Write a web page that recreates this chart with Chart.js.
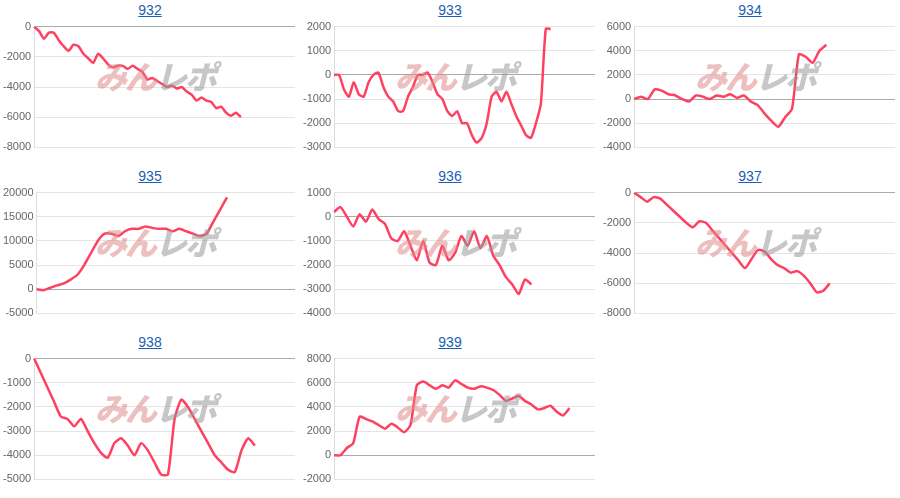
<!DOCTYPE html>
<html><head><meta charset="utf-8">
<script src="https://cdn.jsdelivr.net/npm/chart.js@4"></script>
<style>
body{margin:0;background:#fff;font-family:Arial,"Liberation Sans",sans-serif;}
.cell{position:absolute;width:300px;height:166px;}
.cell a{position:absolute;top:2px;left:0;width:300px;text-align:center;color:#1a5fb4;text-decoration:underline;font-size:14px;}
.cell .cv{position:absolute;top:17px;left:0;width:300px;height:140px;}
.wm{position:absolute;left:95px;top:52px;font:italic 900 32px "Noto Sans CJK JP";letter-spacing:-2px;opacity:.55;pointer-events:none;}
.wm .a{color:#e08a8a}.wm .b{color:#999}
</style></head><body>
<script>
const titles=["932","933","934","935","936","937","938","939"];
const s932=[0,-300,-800,-400,-400,-900,-1300,-1600,-1200,-1300,-1800,-2100,-2400,-1800,-2100,-2500,-2700,-2600,-2600,-2800,-2600,-2800,-3000,-3500,-3400,-3600,-3800,-4000,-3900,-4100,-4000,-4300,-4500,-4900,-4700,-4900,-5000,-5400,-5300,-5700,-5900,-5700,-6000];
const s933=[0,0,-600,-900,-300,-800,-900,-300,0,100,-500,-900,-1100,-1500,-1500,-900,-500,0,0,100,-300,-800,-1000,-1500,-1700,-1500,-2000,-2000,-2500,-2800,-2600,-2000,-900,-700,-1100,-700,-1200,-1700,-2100,-2500,-2600,-2000,-1200,1900,1900];
const s934=[0,200,0,800,700,400,300,0,-200,300,200,0,300,200,400,100,300,-200,-500,-1200,-1800,-2300,-1500,-800,3700,3500,3000,4000,4500];
const s935=[0,-200,300,800,1200,2000,3000,5000,7500,10000,11500,11500,11000,12000,12500,12500,13000,12700,12500,12500,12000,12500,12000,11500,11000,11500,14000,16500,19000];
const s936=[200,400,0,-400,100,-200,300,-100,-300,-900,-1000,-600,-1200,-1800,-1000,-1900,-2000,-1200,-1800,-1500,-800,-1200,-600,-1300,-800,-1600,-2000,-2500,-2800,-3200,-2600,-2800];
const s937=[0,-300,-600,-300,-400,-800,-1200,-1600,-2000,-2300,-1900,-2000,-2500,-3000,-3500,-4000,-4500,-5000,-4400,-3800,-3900,-4400,-4800,-5000,-5300,-5200,-5500,-6000,-6600,-6500,-6000];
const s938=[0,-600,-1200,-1800,-2400,-2500,-2800,-2500,-3000,-3500,-3900,-4100,-3500,-3300,-3600,-4000,-3500,-3800,-4300,-4800,-4800,-2500,-1700,-2000,-2500,-3000,-3500,-4000,-4300,-4600,-4700,-3800,-3300,-3600];
const s939=[0,0,600,1000,3200,3000,2800,2500,2200,2600,2300,1900,2500,5800,6100,5800,5500,5800,5600,6200,5900,5600,5500,5700,5600,5400,5000,4500,4700,4900,4500,4200,3800,3900,4100,3600,3300,3900];
const series=[s932,s933,s934,s935,s936,s937,s938,s939];
const fracs=[0.79,0.84,0.74,0.75,0.76,0.75,0.84,0.91];
const yMin=[-8000,-3000,-4000,-5000,-4000,-8000,-5000,-2000];
const yMax=[0,2000,6000,20000,1000,0,0,8000];
const ySteps=[2000,1000,2000,5000,1000,2000,1000,2000];
titles.forEach((t,i)=>{
  const d=document.createElement('div');d.className='cell';
  d.style.left=(i%3)*300+'px';d.style.top=Math.floor(i/3)*166+'px';
  d.innerHTML='<a href="#">'+t+'</a><div class="cv"><canvas></canvas></div><div class="wm"><span class="a">みん</span><span class="b">レポ</span></div>';
  document.body.appendChild(d);
  const data=series[i];
  const n=Math.round(data.length/fracs[i]);
  const labels=Array.from({length:n},(_,k)=>String(k+1));
  new Chart(d.querySelector('canvas'),{type:'line',
    data:{labels,datasets:[{data,borderColor:'#ff4060',borderWidth:2.5,pointRadius:0,tension:0.2,fill:false}]},
    options:{responsive:true,maintainAspectRatio:false,animation:false,
      layout:{padding:{right:5,top:2}},
      plugins:{legend:{display:false},tooltip:{enabled:false}},
      scales:{x:{display:true,ticks:{display:false},grid:{display:false},border:{display:false}},
        y:{min:yMin[i],max:yMax[i],ticks:{stepSize:ySteps[i],color:'#666',font:{size:11},callback:v=>String(v)},
          grid:{color:c=>c.tick&&c.tick.value===0?'#aaa':'#e5e5e5',drawTicks:false},border:{color:'#ddd'}}}}});
});
</script></body></html>
